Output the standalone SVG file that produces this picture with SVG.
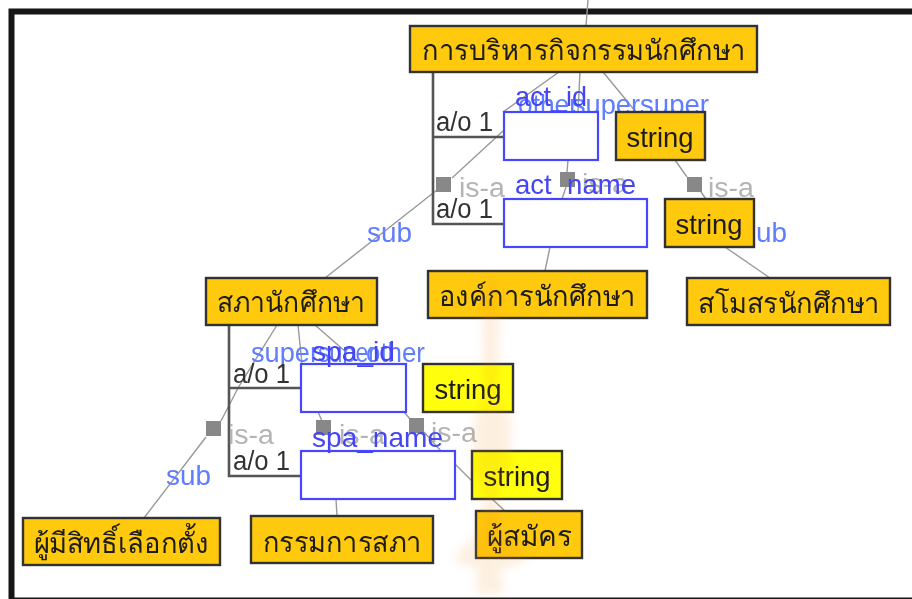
<svg xmlns="http://www.w3.org/2000/svg" width="912" height="599" viewBox="0 0 912 599">
<style>
text{font-family:"Liberation Sans","Noto Sans","DejaVu Sans",sans-serif}
.n{stroke:#333;stroke-width:2.4}
.o{fill:#ffc90e}
.y{fill:#ffff0a}
.b{fill:#fff;stroke:#4646ff;stroke-width:2.2}
.t{font-size:28px;fill:#1c1c1c;text-anchor:middle}
.r{font-size:28px;fill:#5f7dff}
.f{font-size:28px;fill:#4444f4}
.i{font-size:27px;fill:#b4b4b4}
.a{font-size:27px;fill:#333}
.l{stroke:#999;stroke-width:1.4;fill:none}
.d{stroke:#555;stroke-width:2.6;fill:none}
.s{fill:#888}
</style>
<defs><filter id="bl" x="-5%" y="-5%" width="110%" height="110%"><feGaussianBlur stdDeviation="0.6"/></filter><filter id="wm" x="-30%" y="-10%" width="160%" height="120%"><feGaussianBlur stdDeviation="5"/></filter></defs>
<g filter="url(#bl)">
<rect width="912" height="599" fill="#fff"/>
<rect x="11.500" y="11.500" width="920" height="589" fill="none" stroke="#141414" stroke-width="6"/>
<g id="connectors">
<path class="l" d="M588 0L586 26M559 72L503 112M580 72L578 112M603 72L636 112M568 160L567 172M566 187L562 199M675 160L687 177M701 192L706 199M503 131L452 178M437 190L325 278M725 247L770 278M550 247L545 271M277 325L238 388L221 421M298 325L302 364M315 325L346 352M318 412L322 421M404 412L410 419M424 432L441 451M455 464L472 481M492 499L505 511M336 499L337 516M206 437L144 518"/>
<path class="d" d="M433 72V224H503M433 137H503M229 325V476H300M229 388H300"/>
</g>
<g id="link-squares">
<rect class="s" x="436" y="177" width="15" height="15"/>
<rect class="s" x="560" y="172" width="15" height="15"/>
<rect class="s" x="687" y="177" width="15" height="15"/>
<rect class="s" x="206" y="421" width="15" height="15"/>
<rect class="s" x="316" y="420" width="15" height="15"/>
<rect class="s" x="409" y="418" width="15" height="15"/>
</g>
<g id="link-labels">
<text class="i" x="459" y="197" textLength="46" lengthAdjust="spacingAndGlyphs">is-a</text>
<text class="i" x="582" y="193" textLength="46" lengthAdjust="spacingAndGlyphs">is-a</text>
<text class="i" x="708" y="197" textLength="46" lengthAdjust="spacingAndGlyphs">is-a</text>
<text class="i" x="228" y="444" textLength="46" lengthAdjust="spacingAndGlyphs">is-a</text>
<text class="i" x="339" y="444" textLength="46" lengthAdjust="spacingAndGlyphs">is-a</text>
<text class="i" x="431" y="442" textLength="46" lengthAdjust="spacingAndGlyphs">is-a</text>
<text class="r" x="367" y="242" textLength="45" lengthAdjust="spacingAndGlyphs">sub</text>
<text class="r" x="742" y="242" textLength="45" lengthAdjust="spacingAndGlyphs">sub</text>
<text class="r" x="166" y="485" textLength="45" lengthAdjust="spacingAndGlyphs">sub</text>
<text class="r" x="518" y="114" textLength="60" lengthAdjust="spacingAndGlyphs">other</text>
<text class="r" x="572" y="114" textLength="68" lengthAdjust="spacingAndGlyphs">super</text>
<text class="r" x="640" y="114" textLength="69" lengthAdjust="spacingAndGlyphs">super</text>
<text class="r" x="251" y="362" textLength="68" lengthAdjust="spacingAndGlyphs">super</text>
<text class="r" x="318" y="362" textLength="58" lengthAdjust="spacingAndGlyphs">super</text>
<text class="r" x="366" y="362" textLength="59" lengthAdjust="spacingAndGlyphs">other</text>
</g>
<g class="a">
<text class="a" x="436" y="131" textLength="57" lengthAdjust="spacingAndGlyphs">a/o 1</text>
<text class="a" x="436" y="218" textLength="57" lengthAdjust="spacingAndGlyphs">a/o 1</text>
<text class="a" x="233" y="383" textLength="57" lengthAdjust="spacingAndGlyphs">a/o 1</text>
<text class="a" x="233" y="470" textLength="57" lengthAdjust="spacingAndGlyphs">a/o 1</text>
</g>
<g id="n-admin"><rect class="n o" x="410" y="26" width="347" height="46"/><text class="t" x="584" y="60" textLength="324" lengthAdjust="spacingAndGlyphs">การบริหารกิจกรรมนักศึกษา</text></g>
<g id="n-act-id"><rect class="b" x="504" y="112" width="94" height="48"/><text class="f" x="515" y="106" textLength="72" lengthAdjust="spacingAndGlyphs">act_id</text></g>
<g id="n-act-name"><rect class="b" x="504" y="199" width="143" height="48"/><text class="f" x="515" y="194" textLength="121" lengthAdjust="spacingAndGlyphs">act_name</text></g>
<g id="n-string1"><rect class="n o" x="616" y="112" width="89" height="48"/><text class="t" x="660" y="147" textLength="67" lengthAdjust="spacingAndGlyphs">string</text></g>
<g id="n-string2"><rect class="n o" x="665" y="199" width="89" height="48"/><text class="t" x="709" y="234" textLength="67" lengthAdjust="spacingAndGlyphs">string</text></g>
<g id="n-council"><rect class="n o" x="206" y="278" width="171" height="47"/><text class="t" x="291" y="312" textLength="148" lengthAdjust="spacingAndGlyphs">สภานักศึกษา</text></g>
<g id="n-org"><rect class="n o" x="428" y="271" width="219" height="47"/><text class="t" x="537" y="306" textLength="197" lengthAdjust="spacingAndGlyphs">องค์การนักศึกษา</text></g>
<g id="n-club"><rect class="n o" x="687" y="278" width="203" height="47"/><text class="t" x="789" y="313" textLength="182" lengthAdjust="spacingAndGlyphs">สโมสรนักศึกษา</text></g>
<g id="n-spa-id"><rect class="b" x="301" y="364" width="105" height="48"/><text class="f" x="312" y="361" textLength="83" lengthAdjust="spacingAndGlyphs">spa_id</text></g>
<g id="n-spa-name"><rect class="b" x="301" y="451" width="154" height="48"/><text class="f" x="312" y="447" textLength="131" lengthAdjust="spacingAndGlyphs">spa_name</text></g>
<g id="n-string3"><rect class="n y" x="423" y="364" width="90" height="48"/><text class="t" x="468" y="399" textLength="67" lengthAdjust="spacingAndGlyphs">string</text></g>
<g id="n-string4"><rect class="n y" x="472" y="451" width="90" height="48"/><text class="t" x="517" y="486" textLength="67" lengthAdjust="spacingAndGlyphs">string</text></g>
<g id="n-applicant"><rect class="n o" x="476" y="511" width="106" height="47"/><text class="t" x="529" y="546" textLength="85" lengthAdjust="spacingAndGlyphs">ผู้สมัคร</text></g>
<g id="n-committee"><rect class="n o" x="251" y="516" width="182" height="47"/><text class="t" x="342" y="552" textLength="159" lengthAdjust="spacingAndGlyphs">กรรมการสภา</text></g>
<g id="n-voter"><rect class="n o" x="23" y="518" width="197" height="47"/><text class="t" x="121" y="553" textLength="175" lengthAdjust="spacingAndGlyphs">ผู้มีสิทธิ์เลือกตั้ง</text></g>
<g id="watermark" fill="#f08c1e" opacity="0.13" filter="url(#wm)">
<path d="M490 275L500 295L498 400L512 420L510 470L498 490L500 530L530 560L500 570L505 594L475 594L478 570L452 560L480 530L484 490L472 470L474 420L484 400L482 295Z"/>
</g>
</g>
</svg>
